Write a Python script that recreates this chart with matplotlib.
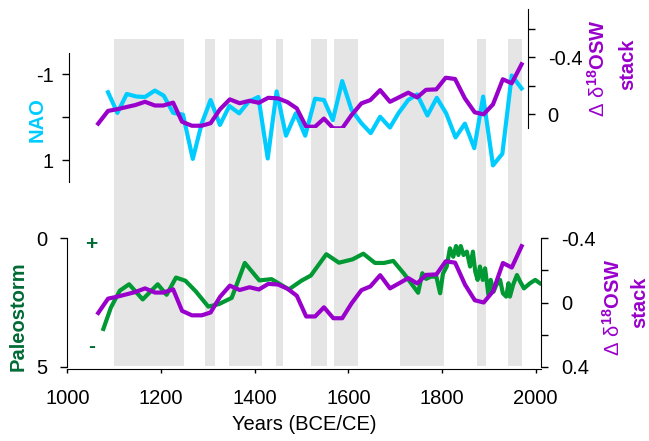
import matplotlib.pyplot as plt
import numpy as np

plt.rcParams['font.family'] = ['Liberation Sans', 'DejaVu Sans']
plt.rcParams['mathtext.fontset'] = 'custom'
plt.rcParams['mathtext.rm'] = 'Liberation Sans'
plt.rcParams['mathtext.bf'] = 'Liberation Sans:bold'
plt.rcParams['axes.unicode_minus'] = False

# delta 18O seawater stack (same series drawn in both panels)
stack_years = [1066, 1087, 1105, 1125, 1145, 1166, 1187, 1205, 1226, 1245, 1266, 1287,
               1306, 1326, 1347, 1368, 1389, 1409, 1429, 1450, 1470, 1490, 1510, 1529,
               1548, 1568, 1587, 1607, 1628, 1647, 1668, 1689, 1708, 1728, 1747, 1766,
               1788, 1808, 1828, 1849, 1870, 1889, 1909, 1930, 1949, 1970]
stack_vals = [0.065, -0.024, -0.035, -0.05, -0.065, -0.088, -0.062, -0.062, -0.082, 0.052,
              0.08, 0.08, 0.062, -0.035, -0.105, -0.078, -0.095, -0.081, -0.116, -0.112,
              -0.086, -0.042, 0.087, 0.087, 0.03, 0.098, 0.098, 0.005, -0.077, -0.1,
              -0.17, -0.088, -0.119, -0.152, -0.119, -0.172, -0.175, -0.257, -0.248,
              -0.112, -0.014, 0.0, -0.07, -0.246, -0.218, -0.351]

# NAO reconstruction
nao_years = [1087, 1107, 1127, 1148, 1166, 1187, 1206, 1226, 1247, 1268, 1287, 1306,
             1326, 1346, 1367, 1387, 1408, 1428, 1447, 1467, 1488, 1508, 1529, 1548,
             1567, 1587, 1607, 1628, 1648, 1668, 1689, 1707, 1728, 1747, 1769, 1789,
             1809, 1829, 1849, 1869, 1888, 1909, 1929, 1949, 1970]
nao_vals = [-0.58, -0.1, -0.54, -0.48, -0.47, -0.62, -0.5, -0.1, -0.06, 0.97, 0.15, -0.4,
            0.18, -0.26, -0.09, -0.36, -0.47, 0.96, -0.6, 0.43, -0.09, 0.43, -0.43, -0.4,
            0.07, -0.84, -0.17, 0.14, 0.37, -0.01, 0.24, -0.09, -0.4, -0.53, -0.04, -0.45,
            -0.09, 0.47, 0.15, 0.72, -0.48, 1.12, 0.85, -0.97, -0.67]

# paleostorm record
storm_years = [1077, 1093, 1112, 1132, 1161, 1193, 1212, 1232, 1252, 1274, 1301, 1324,
               1351, 1379, 1410, 1436, 1473, 1500, 1520, 1553, 1580, 1609, 1632, 1657,
               1676, 1696, 1719, 1749, 1758, 1766, 1777, 1788, 1796, 1802, 1810, 1817,
               1824, 1830, 1835, 1840, 1846, 1853, 1860, 1866, 1871, 1876, 1881, 1887,
               1892, 1899, 1904, 1910, 1916, 1924, 1930, 1937, 1942, 1945, 1952, 1960,
               1967, 1975, 1988, 1999, 2009]
storm_vals = [3.53, 2.7, 2.04, 1.79, 2.38, 1.79, 2.2, 1.53, 1.65, 2.06, 2.66, 2.56,
              2.32, 0.96, 1.64, 1.59, 1.99, 1.65, 1.45, 0.62, 0.95, 0.82, 0.6, 0.96,
              0.96, 0.88, 1.38, 2.12, 1.36, 1.58, 1.49, 1.5, 2.14, 1.38, 1.1, 0.39,
              0.72, 0.3, 0.65, 0.3, 0.65, 0.52, 1.1, 0.52, 1.3, 1.62, 1.1, 1.62,
              1.17, 2.2, 1.62, 2.08, 1.82, 1.62, 2.14, 2.27, 1.75, 2.27, 1.8, 1.43,
              1.69, 1.95, 1.75, 1.62, 1.75]

# grey intervals
shade_start = [1100, 1295, 1345, 1445, 1520, 1570, 1710, 1875, 1940]
shade_end = [1250, 1315, 1415, 1460, 1555, 1620, 1805, 1895, 1970]

CYAN = '#00CCFF'
PURPLE = '#9900CC'
GREEN = '#009933'
DKGREEN = '#006B35'
GREY = '#E5E5E5'

W, H = 649, 441
fig = plt.figure(figsize=(W / 100, H / 100), dpi=100)


def add_px_axes(left, top, right, bottom):
    return fig.add_axes([left / W, 1 - bottom / H, (right - left) / W, (bottom - top) / H])


def style_ticks(ax, side, pad, length=5):
    ax.tick_params(axis='y', which='both', direction='out', length=length, width=1,
                   labelsize=14.5, pad=pad, left=(side == 'left'), right=(side == 'right'),
                   labelleft=(side == 'left'), labelright=(side == 'right'))


# background shading
bg = add_px_axes(67.3, 39, 541.3, 366)
bg.set_xlim(1000, 2012)
bg.set_ylim(0, 1)
for s, e in zip(shade_start, shade_end):
    bg.axvspan(s, e, color=GREY, lw=0)
bg.axis('off')

# bottom panel
ax_storm = add_px_axes(67.3, 238.3, 541.3, 366.7)
ax_storm.patch.set_alpha(0)
ax_storm.plot(storm_years, storm_vals, color=GREEN, lw=3)
ax_storm.set_xlim(1000, 2012)
ax_storm.set_ylim(5, 0)
ax_storm.set_yticks([0, 5])
ax_storm.set_yticklabels(['0', '5'])
for sp in ['top', 'right']:
    ax_storm.spines[sp].set_visible(False)
ax_storm.spines['bottom'].set_position(('outward', 2))
ax_storm.set_xticks([1000, 1200, 1400, 1600, 1800, 2000])
ax_storm.tick_params(axis='x', direction='out', length=3, width=1, labelsize=14.5, pad=11)
style_ticks(ax_storm, 'left', 9)

ax_stack2 = ax_storm.twinx()
ax_stack2.plot(stack_years, stack_vals, color=PURPLE, lw=3)
ax_stack2.set_ylim(0.4, -0.4)
ax_stack2.set_yticks([-0.4, -0.2, 0, 0.2, 0.4])
ax_stack2.set_yticklabels(['-0.4', '', '0', '', '0.4'])
for sp in ['top', 'left', 'bottom']:
    ax_stack2.spines[sp].set_visible(False)
style_ticks(ax_stack2, 'right', 9.5)

# top panel
top_xlim = (1004.3, 1984.4)
ax_nao = add_px_axes(69.3, 52.7, 528.3, 181.7)
ax_nao.patch.set_alpha(0)
ax_nao.plot(nao_years, nao_vals, color=CYAN, lw=3)
ax_nao.set_xlim(*top_xlim)
ax_nao.set_ylim(1.5, -1.5)
ax_nao.set_yticks([-1, 0, 1])
ax_nao.set_yticklabels(['-1', '', '1'])
ax_nao.set_xticks([])
for sp in ['top', 'right', 'bottom']:
    ax_nao.spines[sp].set_visible(False)
style_ticks(ax_nao, 'left', 6)

ax_stack1 = add_px_axes(69.3, 9.3, 528.3, 128.3)
ax_stack1.patch.set_alpha(0)
ax_stack1.plot(stack_years, stack_vals, color=PURPLE, lw=3)
ax_stack1.set_xlim(*top_xlim)
ax_stack1.set_ylim(0.098, -0.737)
ax_stack1.set_yticks([-0.6, -0.4, -0.2, 0])
ax_stack1.set_yticklabels(['', '-0.4', '', '0'])
ax_stack1.set_xticks([])
for sp in ['top', 'left', 'bottom']:
    ax_stack1.spines[sp].set_visible(False)
style_ticks(ax_stack1, 'right', 9)

# labels
def ftext(x, y, s, **kw):
    fig.text(x / W, 1 - y / H, s, ha='center', va='center', **kw)


ftext(37, 120, 'NAO', rotation=90, color=CYAN, fontsize=14.5, fontweight='bold')
ftext(18, 316, 'Paleostorm', rotation=90, color=DKGREEN, fontsize=14.5, fontweight='bold')
ftext(91, 244, '+', color=DKGREEN, fontsize=15, fontweight='bold')
ftext(92, 347, '-', color=DKGREEN, fontsize=15, fontweight='bold')
ftext(304.7, 424, 'Years (BCE/CE)', fontsize=14.5)

d18 = r'$\mathrm{\Delta\ \delta}^{\mathbf{18}}\mathbf{OSW}$'
ftext(598, 68, d18, rotation=90, color=PURPLE, fontsize=14.5)
ftext(628, 64, 'stack', rotation=90, color=PURPLE, fontsize=14.5, fontweight='bold')
ftext(613, 307, d18, rotation=90, color=PURPLE, fontsize=14.5)
ftext(640, 302, 'stack', rotation=90, color=PURPLE, fontsize=14.5, fontweight='bold')

fig.savefig('out.png', dpi=100)
